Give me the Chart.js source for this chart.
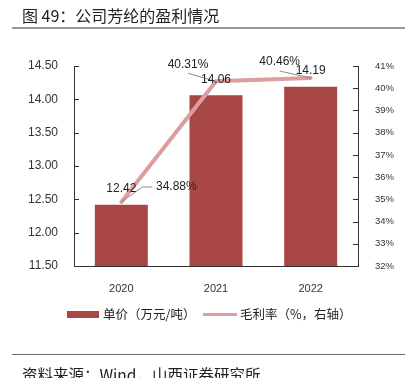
<!DOCTYPE html>
<html>
<head>
<meta charset="utf-8">
<script src="https://cdn.jsdelivr.net/npm/chart.js@4/dist/chart.umd.min.js"></script>
<style>
  html, body { margin: 0; padding: 0; background: #fff; width: 411px; height: 378px; overflow: hidden; }
  #wrap { position: relative; width: 411px; height: 378px; }
  canvas { position: absolute; left: 0; top: 0; }
  .t { position: absolute; font-family: "Noto Sans CJK SC", sans-serif; color: #222; white-space: nowrap; }
  .rule { position: absolute; left: 12px; width: 393px; }
  .sw { position: absolute; }
</style>
</head>
<body>
<div id="wrap">
  <canvas id="c" width="411" height="378"></canvas>
  <div class="t" style="left:22px; top:6px; font-size:16px; line-height:18px;">图 49：公司芳纶的盈利情况</div>
  <div class="rule" style="top:27px; height:2px; background:#9a9a9a;"></div>
  <div class="sw" id="swBar" style="left:67px; top:311px; width:32px; height:7px;"></div>
  <div class="t" id="lgBar" style="left:103px; top:306px; font-size:12.5px; line-height:16px;"></div>
  <div class="sw" id="swLine" style="left:203px; top:313px; width:34px; height:3px;"></div>
  <div class="t" id="lgLine" style="left:240px; top:306px; font-size:12.5px; line-height:16px;"></div>
  <div class="rule" style="top:354px; height:1px; background:#666;"></div>
  <div class="t" style="left:22px; top:365px; font-size:15.5px; line-height:18px;">资料来源：Wind，山西证券研究所</div>
</div>
<script>
// ---- data ----
const categories = ['2020', '2021', '2022'];
const unitPrice = [12.42, 14.06, 14.19];          // 单价（万元/吨）
const grossMargin = [34.88, 40.31, 40.46];         // 毛利率（%）
const seriesNames = ['单价（万元/吨）', '毛利率（%，右轴）'];
const leftAxisRange = [11.5, 14.5, 0.5];
const rightAxisRange = [32, 41, 1];

// ---- styles ----
const BAR_COLOR = '#a84745';
const LINE_COLOR = '#dc9e9e';
const AXIS_COLOR = '#333';
const NUM_FONT = '"Liberation Sans", Arial, sans-serif';

document.getElementById('swBar').style.background = BAR_COLOR;
document.getElementById('swLine').style.background = LINE_COLOR;
document.getElementById('lgBar').textContent = seriesNames[0];
document.getElementById('lgLine').textContent = seriesNames[1];

// label offsets (style) for line labels, relative to point
const pctLabelOffsets = [[55, -15], [-28, -17], [-31, -16]];
const pctLeaders = [
  [[21, -15], [31, -15]],
  [[-28, -8]],
  [[-31, -7]]
];

const innerTicks = {
  id: 'innerTicks',
  afterDraw(chart) {
    const ctx = chart.ctx, a = chart.chartArea;
    ctx.save();
    ctx.strokeStyle = AXIS_COLOR;
    ctx.lineWidth = 1;
    const y = chart.scales.y, y1 = chart.scales.y1;
    y.ticks.forEach(t => {
      const p = Math.round(y.getPixelForValue(t.value)) + 0.5;
      ctx.beginPath(); ctx.moveTo(a.left, p); ctx.lineTo(a.left + 5, p); ctx.stroke();
    });
    y1.ticks.forEach(t => {
      const p = Math.round(y1.getPixelForValue(t.value)) + 0.5;
      ctx.beginPath(); ctx.moveTo(a.right, p); ctx.lineTo(a.right - 5, p); ctx.stroke();
    });
    ctx.restore();
  }
};

const dataLabels = {
  id: 'dataLabels',
  afterDatasetsDraw(chart) {
    const ctx = chart.ctx;
    ctx.save();
    ctx.font = '12px ' + NUM_FONT;
    ctx.fillStyle = '#222';
    ctx.textAlign = 'center';
    ctx.textBaseline = 'middle';
    const lineMeta = chart.getDatasetMeta(1);
    ctx.strokeStyle = '#8a8a8a';
    ctx.lineWidth = 1;
    lineMeta.data.forEach((el, i) => {
      ctx.beginPath();
      ctx.moveTo(el.x, el.y);
      pctLeaders[i].forEach(([dx, dy]) => ctx.lineTo(el.x + dx, el.y + dy));
      ctx.stroke();
    });
    const barMeta = chart.getDatasetMeta(0);
    barMeta.data.forEach((el, i) => {
      ctx.fillText(unitPrice[i].toFixed(2), el.x, el.y - 16);
    });
    lineMeta.data.forEach((el, i) => {
      const [dx, dy] = pctLabelOffsets[i];
      ctx.fillText(grossMargin[i].toFixed(2) + '%', el.x + dx, el.y + dy);
    });
    ctx.restore();
  }
};

new Chart(document.getElementById('c'), {
  data: {
    labels: categories,
    datasets: [
      {
        type: 'bar', label: seriesNames[0], data: unitPrice, yAxisID: 'y',
        backgroundColor: BAR_COLOR, categoryPercentage: 1, barPercentage: 0.56, order: 2
      },
      {
        type: 'line', label: seriesNames[1], data: grossMargin, yAxisID: 'y1',
        borderColor: LINE_COLOR, backgroundColor: LINE_COLOR, borderWidth: 4,
        pointRadius: 0, tension: 0, borderCapStyle: 'round', order: 1
      }
    ]
  },
  options: {
    responsive: false, animation: false, devicePixelRatio: 1,
    layout: { padding: { top: 66, left: 0, right: 0, bottom: 0 } },
    plugins: { legend: { display: false }, tooltip: { enabled: false } },
    scales: {
      x: {
        offset: true,
        grid: { display: false },
        border: { color: AXIS_COLOR, width: 1 },
        ticks: { color: '#333', font: { family: NUM_FONT, size: 11 }, padding: 8 },
        afterFit(s) { s.height = 112; }
      },
      y: {
        position: 'left', min: leftAxisRange[0], max: leftAxisRange[1],
        grid: { display: false },
        border: { color: AXIS_COLOR, width: 1 },
        ticks: { stepSize: leftAxisRange[2], color: '#333', font: { family: NUM_FONT, size: 12 }, padding: 8,
                 callback: v => Number(v).toFixed(2) },
        afterFit(s) { s.width = 74; }
      },
      y1: {
        position: 'right', min: rightAxisRange[0], max: rightAxisRange[1],
        grid: { display: false },
        border: { color: AXIS_COLOR, width: 1 },
        ticks: { stepSize: rightAxisRange[2], color: '#333', font: { family: NUM_FONT, size: 9.5 }, padding: 9,
                 callback: v => v + '%' },
        afterFit(s) { s.width = 53; }
      }
    }
  },
  plugins: [innerTicks, dataLabels]
});
</script>
</body>
</html>
